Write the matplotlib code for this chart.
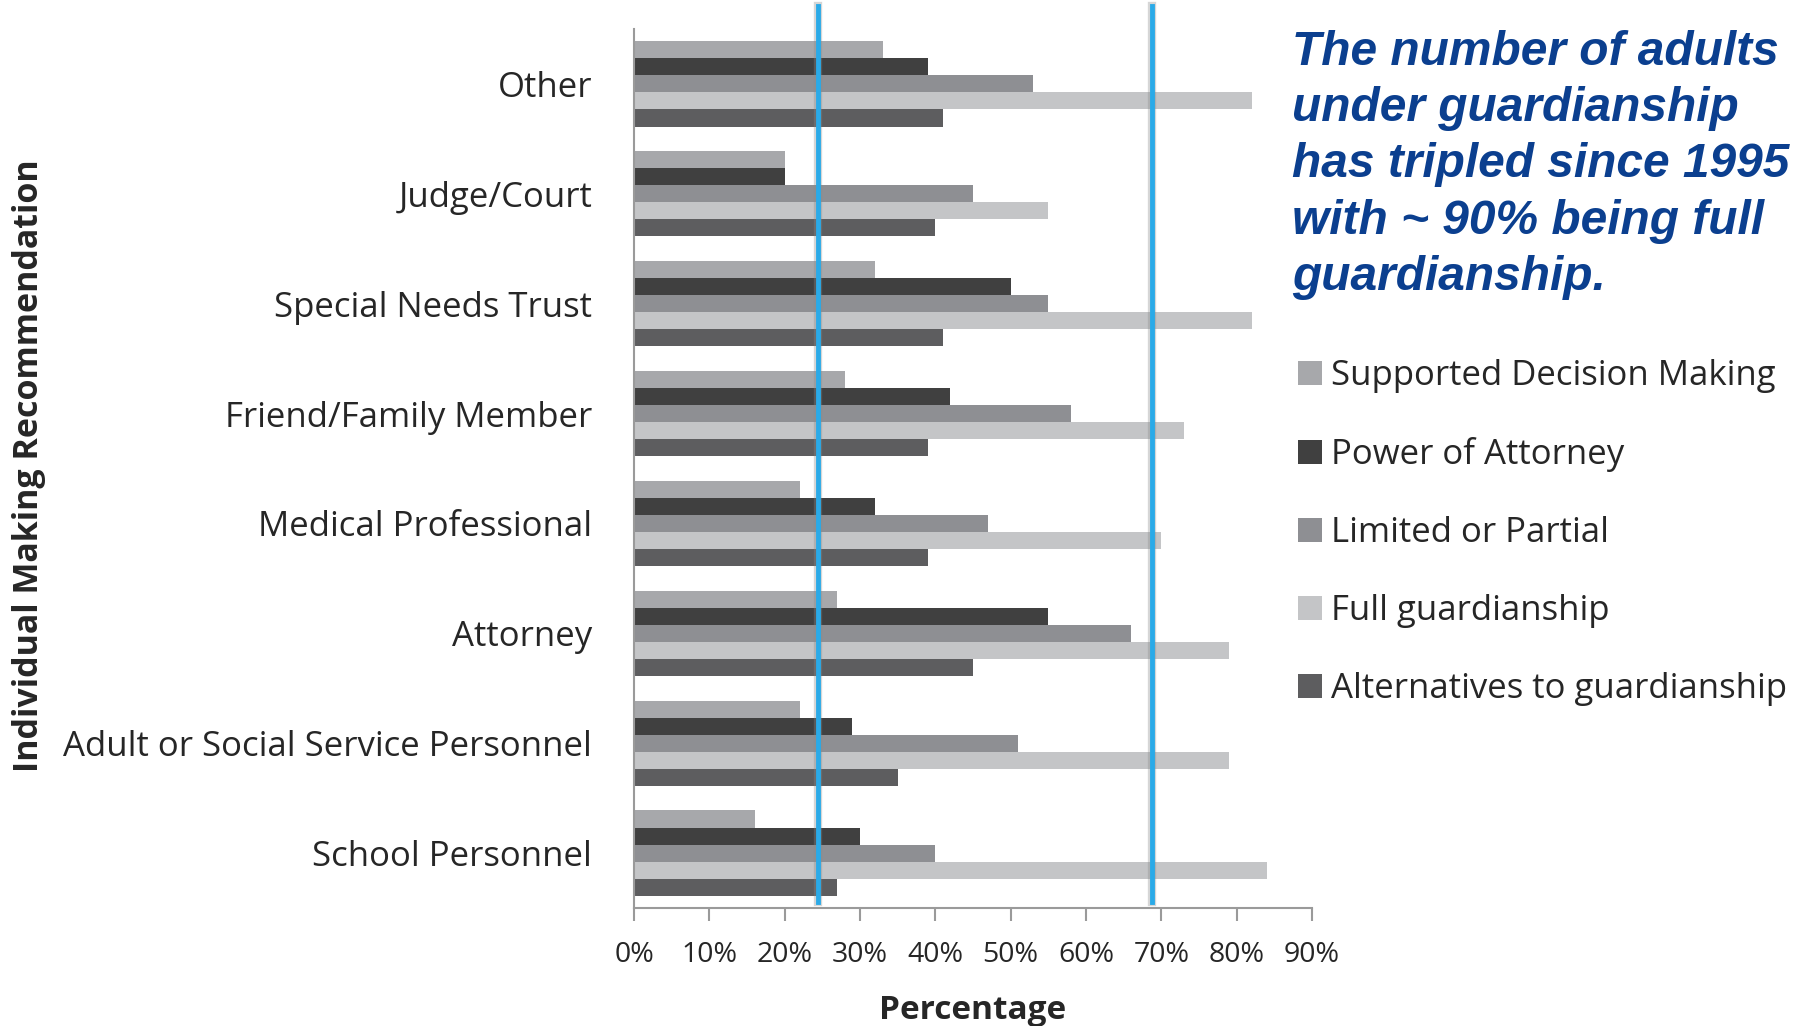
import numpy as np
import matplotlib.pyplot as plt

# categorias de arriba hacia abajo
categorias = ["Other", "Judge/Court", "Special Needs Trust", "Friend/Family Member",
              "Medical Professional", "Attorney", "Adult or Social Service Personnel",
              "School Personnel"]

series = ["Supported Decision Making", "Power of Attorney", "Limited or Partial",
          "Full guardianship", "Alternatives to guardianship"]

apoyo_decisiones = [33, 20, 32, 28, 22, 27, 22, 16]
poder_notarial = [39, 20, 50, 42, 32, 55, 29, 30]
limitada_parcial = [53, 45, 55, 58, 47, 66, 51, 40]
tutela_completa = [82, 55, 82, 73, 70, 79, 79, 84]
alternativas = [41, 40, 41, 39, 39, 45, 35, 27]

lineas_azules = [24.4, 68.8]

colores = ["#a7a8ab", "#404040", "#8e8f93", "#c4c5c7", "#5d5d5f"]

nota = ("The number of adults\nunder guardianship\nhas tripled since 1995\n"
        "with ~ 90% being full\nguardianship.")

plt.rcParams['font.family'] = ['Open Sans', 'DejaVu Sans']

fig = plt.figure(figsize=(18.14, 10.26), dpi=100)
ax = fig.add_axes([634 / 1814, 1 - 908 / 1026, (1312 - 634) / 1814, (908 - 29) / 1026])

valores = [apoyo_decisiones, poder_notarial, limitada_parcial, tutela_completa, alternativas]
y = np.arange(len(categorias))
alto = 0.155
for i, (vals, nombre, c) in enumerate(zip(valores, series, colores)):
    ax.barh(y + (i - 2) * alto, vals, height=alto, color=c, label=nombre)

ax.set_ylim(len(categorias) - 0.5, -0.5)
ax.set_xlim(0, 90)
ax.set_xticks(np.arange(0, 91, 10))
ax.set_xticklabels([f"{v}%" for v in range(0, 91, 10)], fontsize=20.5, color="#262626")
ax.set_yticks(y)
ax.set_yticklabels(categorias, fontsize=25, color="#262626")
ax.tick_params(axis='y', length=0, pad=30)
ax.tick_params(axis='x', length=9, width=1.5, color="#9a9a9a", pad=15)
for lado in ["top", "right"]:
    ax.spines[lado].set_visible(False)
for lado in ["left", "bottom"]:
    ax.spines[lado].set_color("#9a9a9a")
    ax.spines[lado].set_linewidth(1.5)

ax.set_xlabel("Percentage", fontsize=24, fontweight="bold", color="#262626", labelpad=18)
fig.text(29 / 1814, 1 - 466 / 1026, "Individual Making Recommendation", rotation=90,
         fontsize=24.5, fontweight="bold", color="#262626", ha="center", va="center")

# lineas verticales azules
for xv in lineas_azules:
    ax.axvline(xv, ymin=0.007, ymax=1.026, color="#8a8a8a", lw=6, alpha=0.35, clip_on=False)
    ax.axvline(xv, ymin=0.007, ymax=1.026, color="#2aaae8", lw=3.5, clip_on=False)

# leyenda
ley = fig.legend(loc="upper left", bbox_to_anchor=(1284 / 1814, 1 - 345 / 1026),
                 frameon=False, fontsize=25, handlelength=0.7, handleheight=0.7,
                 handletextpad=0.25, labelspacing=1.27, borderaxespad=0)
for t in ley.get_texts():
    t.set_color("#262626")

fig.text(1292 / 1814, 1 - 30 / 1026, nota, fontsize=34.5, fontweight="bold", style="italic",
         family="Liberation Sans", color="#0b3f8f", ha="left", va="top", linespacing=1.32)

fig.savefig("out.png", dpi=100)
